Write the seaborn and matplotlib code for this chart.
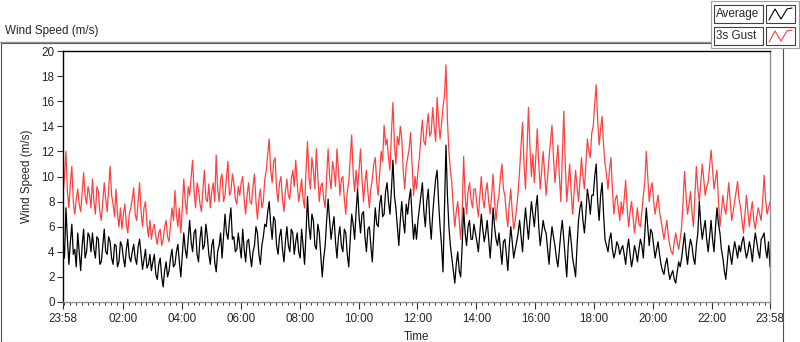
import pandas as pd
import matplotlib.pyplot as plt
import seaborn as sns
from matplotlib.patches import Rectangle
from matplotlib.lines import Line2D

# wind speed (m/s), one reading every 3 minutes from 23:58 to 23:58 next day
gust = [
    8.5, 10.0, 12.0, 8.8, 7.5, 9.5, 10.8, 8.0, 7.0, 8.2, 9.0, 7.8, 7.2, 8.8, 10.3, 8.5, 7.8, 9.2, 8.6, 7.5,      # 00
    9.8, 8.0, 7.0, 9.2, 8.8, 7.2, 6.5, 8.0, 9.5, 8.2, 7.2, 9.0, 10.8, 8.5, 7.8, 6.8, 9.0, 7.0, 6.0, 7.5,        # 01
    5.8, 7.0, 7.8, 6.2, 5.5, 7.0, 7.5, 8.2, 9.1, 7.0, 6.5, 8.0, 9.5, 7.2, 6.0, 7.5, 8.0, 6.2, 5.2, 6.5,         # 02
    5.0, 5.8, 6.2, 5.2, 4.6, 5.5, 5.8, 4.5, 5.0, 6.0, 6.5, 5.2, 4.8, 6.2, 7.5, 6.5, 8.9, 7.0, 6.0, 7.5,         # 03
    5.5, 7.5, 9.8, 8.0, 7.0, 9.2, 8.5, 10.0, 11.3, 8.8, 7.5, 9.5, 9.0, 7.8, 7.2, 9.0, 10.5, 8.2, 8.0, 9.4,      # 04
    7.5, 8.8, 9.5, 8.0, 11.7, 9.0, 8.0, 9.8, 10.2, 8.0, 8.5, 10.0, 11.2, 8.5, 8.8, 10.2, 9.5, 8.2, 7.8, 9.2,    # 05
    8.5, 9.5, 10.0, 8.2, 7.0, 8.5, 9.5, 8.0, 7.8, 9.2, 10.2, 8.0, 6.6, 8.2, 9.0, 7.5, 8.0, 9.8, 10.5, 11.8,    # 06
    13.0, 10.5, 9.5, 11.2, 11.5, 9.0, 8.0, 9.5, 10.0, 8.2, 7.2, 8.8, 9.8, 8.5, 8.2, 9.8, 10.5, 9.2, 11.3, 9.5,  # 07
    8.0, 8.8, 9.8, 8.2, 7.5, 10.5, 12.8, 10.0, 9.0, 11.5, 10.5, 9.0, 12.2, 10.0, 8.0, 9.2, 9.5, 8.2, 7.5, 10.0,  # 08
    12.2, 10.0, 9.0, 11.2, 10.5, 9.2, 12.2, 10.5, 8.5, 9.8, 10.0, 8.2, 7.0, 8.8, 9.5, 11.5, 13.3, 10.2, 8.8, 10.5,  # 09
    9.0, 10.5, 12.2, 9.8, 8.0, 9.5, 10.5, 8.8, 7.5, 9.0, 9.8, 11.0, 11.5, 9.5, 8.5, 10.2, 12.0, 11.2, 14.1, 12.5,  # 10
    13.0, 11.5, 10.5, 13.5, 15.9, 12.5, 11.0, 13.2, 12.5, 14.0, 13.0, 10.5, 9.0, 10.8, 11.5, 12.2, 13.5, 11.0, 8.5, 10.0,  # 11
    9.0, 10.5, 11.5, 13.2, 14.5, 12.8, 12.5, 14.0, 15.0, 13.2, 13.5, 15.5, 14.0, 12.8, 16.3, 14.5, 13.0, 14.2, 15.5, 16.5,  # 12
    18.9, 14.5, 12.0, 10.5, 9.5, 7.5, 6.0, 7.2, 8.0, 6.5, 5.0, 7.0, 11.6, 8.5, 7.0, 8.8, 9.5, 8.2, 7.5, 9.0,    # 13
    9.0, 7.8, 6.8, 8.5, 10.0, 8.2, 7.5, 8.8, 9.5, 8.0, 7.0, 8.5, 10.2, 8.0, 6.5, 7.8, 8.5, 10.0, 11.0, 9.0,     # 14
    8.5, 7.0, 6.0, 7.8, 9.0, 7.2, 5.8, 6.5, 7.5, 8.8, 10.5, 12.5, 14.3, 11.0, 9.0, 12.0, 15.5, 12.5, 10.0, 11.8,  # 15
    9.5, 11.5, 13.8, 11.0, 9.0, 10.5, 12.0, 10.2, 8.5, 10.0, 11.5, 12.8, 14.1, 11.5, 9.5, 11.0, 12.5, 10.0, 8.0, 11.5,  # 16
    15.2, 11.0, 8.0, 9.5, 11.0, 8.8, 7.0, 8.8, 10.5, 9.2, 8.0, 9.8, 11.5, 10.0, 9.0, 11.0, 13.0, 12.0, 11.5, 13.5,  # 17
    14.0, 15.8, 17.3, 14.5, 12.5, 13.8, 14.8, 12.5, 11.0, 10.2, 9.0, 10.5, 11.5, 9.0, 7.0, 8.2, 8.5, 7.5, 6.5, 8.0,  # 18
    7.0, 8.2, 9.7, 7.5, 6.0, 7.2, 8.0, 6.8, 5.5, 6.5, 7.5, 6.2, 6.0, 7.2, 8.5, 9.5, 12.0, 10.0, 8.0, 9.0,      # 19
    9.5, 8.0, 7.0, 7.8, 8.5, 7.2, 6.5, 5.8, 5.0, 5.8, 6.5, 5.2, 4.5, 4.0, 3.8, 4.8, 5.5, 4.8, 4.2, 5.0,        # 20
    6.0, 8.0, 10.4, 8.5, 7.0, 7.8, 8.8, 7.2, 6.0, 8.5, 10.8, 9.0, 8.0, 9.5, 11.0, 9.8, 8.5, 9.2, 9.5, 10.8,    # 21
    12.1, 10.5, 9.0, 9.8, 10.5, 8.0, 6.0, 7.2, 8.5, 7.5, 7.0, 8.2, 9.5, 8.0, 6.5, 7.2, 8.0, 8.8, 9.6, 8.2,     # 22
    7.5, 6.5, 5.5, 7.0, 8.5, 7.2, 6.0, 7.2, 8.0, 6.5, 5.8, 6.8, 7.5, 7.0, 6.5, 8.0, 10.1, 8.2, 7.0, 7.5,       # 23
    8.0,
]
average = [
    5.0, 3.5, 7.5, 5.0, 3.0, 4.8, 6.2, 3.8, 4.2, 2.8, 5.5, 4.0, 2.5, 4.5, 5.8, 3.5, 4.0, 5.5, 5.2, 4.0,
    5.5, 4.2, 3.5, 5.2, 5.0, 3.0, 3.2, 4.5, 5.8, 4.0, 3.8, 5.2, 4.8, 3.5, 3.0, 4.6, 4.5, 2.8, 3.2, 4.8,
    4.5, 3.5, 2.8, 4.2, 5.0, 3.6, 3.2, 4.0, 4.6, 3.5, 3.0, 4.4, 5.0, 3.8, 2.6, 3.4, 4.2, 2.7, 3.0, 3.8,
    2.5, 3.2, 3.8, 2.2, 1.8, 3.0, 3.5, 2.0, 1.2, 2.5, 3.2, 2.0, 2.5, 3.5, 4.2, 2.8, 3.0, 4.0, 4.6, 3.2,
    2.0, 3.8, 5.5, 4.2, 3.5, 5.0, 6.5, 4.8, 4.0, 5.5, 5.8, 3.8, 3.2, 5.0, 6.0, 4.2, 4.5, 6.2, 5.2, 3.8,
    3.0, 4.5, 5.0, 3.2, 2.4, 4.0, 4.5, 5.5, 3.5, 5.2, 7.0, 5.5, 5.0, 6.5, 7.5, 5.0, 5.2, 4.0, 4.2, 5.5,
    4.5, 3.5, 5.8, 4.2, 3.2, 4.8, 5.0, 3.8, 2.8, 4.0, 4.5, 6.0, 5.5, 3.8, 3.0, 4.5, 5.2, 6.2, 6.0, 7.2,
    8.0, 6.2, 5.0, 6.8, 6.5, 4.5, 3.8, 5.2, 5.8, 4.2, 3.2, 4.8, 6.0, 4.5, 4.0, 5.8, 5.5, 3.8, 4.8, 5.5,
    4.0, 3.5, 5.8, 4.5, 3.0, 5.5, 8.4, 6.0, 5.0, 7.0, 6.5, 4.5, 4.2, 6.2, 5.5, 3.8, 2.0, 3.5, 4.5, 6.5,
    8.2, 6.5, 5.0, 6.0, 6.8, 4.8, 3.5, 5.2, 6.0, 4.5, 4.0, 5.8, 5.5, 3.8, 2.8, 5.0, 7.0, 6.2, 5.0, 7.2,
    9.0, 6.8, 5.5, 7.0, 7.2, 5.2, 4.0, 5.8, 6.0, 4.5, 3.2, 5.5, 7.5, 6.2, 6.0, 7.8, 8.5, 6.8, 7.0, 8.8,
    9.5, 8.0, 7.0, 9.0, 11.3, 8.5, 7.5, 6.0, 4.5, 6.5, 8.0, 6.5, 5.5, 7.8, 7.0, 8.2, 9.0, 6.8, 5.0, 6.2,
    5.0, 6.5, 7.5, 8.5, 9.5, 7.2, 6.0, 8.0, 9.0, 6.5, 5.0, 7.0, 8.5, 9.8, 10.5, 8.0, 6.0, 4.5, 2.4, 7.5,
    12.5, 8.5, 6.0, 4.5, 3.5, 2.5, 1.5, 3.0, 4.0, 2.5, 2.0, 4.5, 7.5, 5.5, 4.5, 6.0, 6.5, 5.0, 5.0, 6.2,
    5.5, 4.8, 4.0, 5.5, 7.0, 5.8, 4.8, 5.5, 6.5, 5.0, 3.5, 5.2, 7.5, 6.0, 5.0, 4.5, 5.5, 4.2, 3.0, 4.8,
    5.0, 3.8, 2.5, 4.5, 6.0, 4.8, 3.5, 4.2, 4.8, 5.5, 6.5, 5.2, 4.0, 6.0, 7.5, 6.2, 5.0, 6.5, 8.0, 7.0,
    6.0, 7.5, 8.5, 6.0, 4.5, 5.5, 6.5, 5.8, 5.5, 4.2, 3.0, 4.8, 6.0, 5.2, 4.5, 3.5, 2.8, 4.2, 5.5, 6.5,
    5.0, 3.5, 2.0, 4.5, 6.0, 4.8, 3.5, 2.8, 2.0, 4.5, 6.5, 7.5, 8.0, 6.5, 5.5, 7.0, 9.0, 8.2, 7.0, 8.5,
    8.5, 10.0, 11.0, 8.0, 6.5, 8.5, 9.5, 7.0, 5.0, 4.5, 4.0, 5.0, 5.5, 4.2, 3.5, 4.0, 4.8, 4.5, 3.8, 4.2,
    4.5, 3.8, 3.0, 4.2, 5.0, 3.8, 2.8, 3.5, 4.5, 4.0, 3.2, 4.2, 5.0, 4.5, 3.5, 5.5, 7.5, 6.0, 4.5, 5.8,
    5.5, 4.5, 3.5, 4.2, 4.8, 3.8, 3.0, 2.5, 2.2, 3.0, 3.5, 2.5, 1.8, 2.2, 2.5, 1.8, 1.5, 2.4, 3.2, 2.8,
    3.5, 4.5, 5.5, 4.0, 3.0, 4.2, 5.0, 4.5, 3.5, 3.0, 4.5, 5.5, 8.0, 6.2, 5.0, 5.8, 6.5, 5.0, 4.0, 5.2,
    6.5, 5.0, 4.0, 6.0, 7.5, 6.2, 5.5, 4.2, 3.5, 2.5, 1.8, 3.2, 4.5, 3.8, 3.0, 4.0, 4.8, 4.2, 3.5, 4.5,
    4.0, 4.8, 5.2, 4.2, 3.5, 4.0, 4.8, 4.2, 3.2, 4.5, 5.5, 4.8, 4.0, 3.5, 5.0, 5.2, 5.5, 4.2, 3.5, 4.8,
    2.8,
]
start = pd.Timestamp("2020-01-01 23:58")
end = pd.Timestamp("2020-01-02 23:58")
times = pd.date_range(start, end, periods=len(gust))

major_ticks = [start] + list(pd.date_range("2020-01-02 02:00", "2020-01-02 22:00", freq="2h")) + [end]
tick_labels = [t.strftime("%H:%M") for t in major_ticks]
minor_ticks = pd.date_range("2020-01-02 00:00", end, freq="12min")

df = pd.DataFrame({"Time": times, "Average": average, "3s Gust": gust})

sns.set_style("white")
plt.rcParams["font.family"] = ["Liberation Sans", "DejaVu Sans"]

fig = plt.figure(figsize=(8, 3.42), dpi=100)
ax = fig.add_axes([63/800, 1-302/342, 707/800, 251/342])

sns.lineplot(data=df, x="Time", y="3s Gust", color="#ff4040", lw=0.9, ax=ax)
sns.lineplot(data=df, x="Time", y="Average", color="black", lw=0.9, ax=ax)

ax.set_xlim(start, end)
ax.set_ylim(0, 20)
ax.set_yticks(range(0, 21, 2))
ax.set_xticks(major_ticks)
ax.set_xticklabels(tick_labels)
ax.set_xticks(minor_ticks, minor=True)
ax.tick_params(axis="both", which="major", labelsize=8.4, length=4, width=0.8, color="#333333", pad=2, direction="out")
ax.tick_params(axis="x", which="major", length=5, pad=3, bottom=True)
ax.tick_params(axis="x", which="minor", length=2.5, width=0.7, color="#333333", bottom=True)
ax.tick_params(axis="y", left=True)
ax.set_ylabel("Wind Speed (m/s)", fontsize=8.4, labelpad=6)
ax.set_xlabel("Time", fontsize=8.4, labelpad=4)

for side in ["top", "left"]:
    ax.spines[side].set_color("black")
    ax.spines[side].set_linewidth(1)
for side in ["bottom", "right"]:
    ax.spines[side].set_color("#909090")
    ax.spines[side].set_linewidth(1)

# outer frame and heading
fig.add_artist(Rectangle((0.5/800, 0.5/342), 782.5/800, 299/342, transform=fig.transFigure,
                         fill=False, edgecolor="#505050", lw=0.8))
fig.add_artist(Line2D([0, 711/800], [1-42/342, 1-42/342], transform=fig.transFigure, color="#909090", lw=1))
fig.text(5/800, 1-31/342, "Wind Speed (m/s)", fontsize=8.4, va="center", ha="left")

# legend block
fig.add_artist(Rectangle((711/800, 1-48/342), 88/800, 47/342, transform=fig.transFigure,
                         facecolor="white", edgecolor="#a0a0a0", lw=0.8))
for row, (name, col) in enumerate([("Average", "black"), ("3s Gust", "#ff4040")]):
    top = 5 + row * 22
    fig.add_artist(Rectangle((714/800, 1-(top+18)/342), 49/800, 18/342, transform=fig.transFigure,
                             facecolor="white", edgecolor="#404040", lw=0.8))
    fig.text(716/800, 1-(top+9)/342, name, fontsize=8.4, va="center", ha="left")
    fig.add_artist(Rectangle((766/800, 1-(top+18)/342), 29/800, 18/342, transform=fig.transFigure,
                             facecolor="white", edgecolor="#404040", lw=0.8))
    xs = [769, 775, 781, 787, 792]
    ys = [top+15, top+4, top+14, top+4, top+3]
    fig.add_artist(Line2D([x/800 for x in xs], [1-y/342 for y in ys], transform=fig.transFigure, color=col, lw=0.8))

fig.savefig("out.png", dpi=100)
